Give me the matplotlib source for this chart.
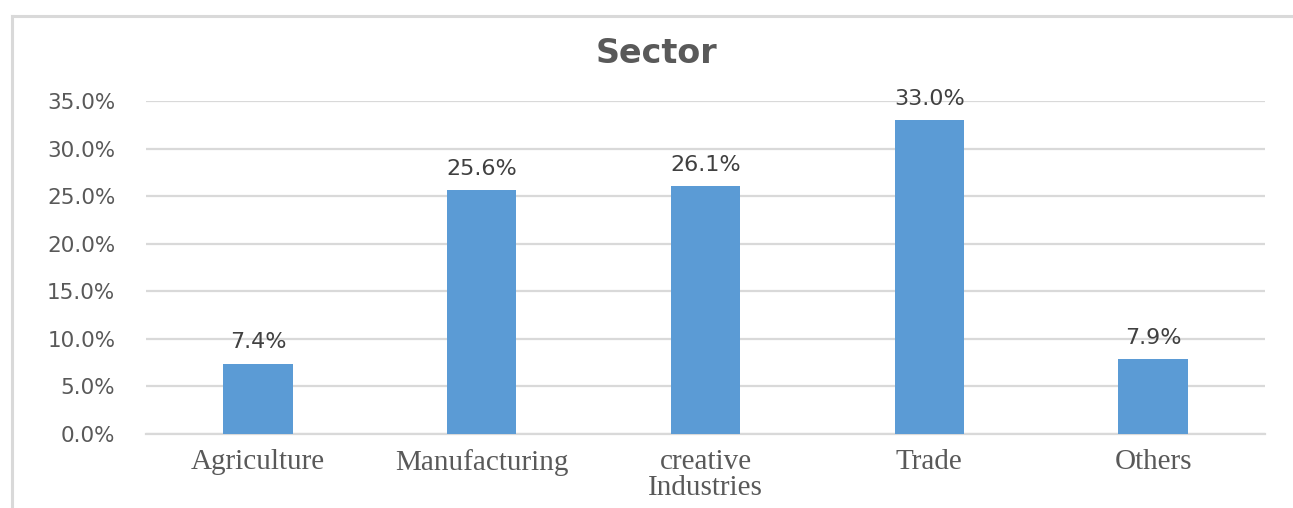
import matplotlib.pyplot as plt
from matplotlib.lines import Line2D
from matplotlib.ticker import FuncFormatter

sectors = ["Agriculture", "Manufacturing", "creative\nIndustries", "Trade", "Others"]
shares = [7.4, 25.6, 26.1, 33.0, 7.9]
y_ticks = [0, 5, 10, 15, 20, 25, 30, 35]

bar_color = "#5B9BD5"
grid_color = "#D9D9D9"
text_color = "#595959"

fig = plt.figure(figsize=(12.93, 5.08), dpi=100)
ax = fig.add_axes([0.1129, 0.1457, 0.8654, 0.6555])

x = range(len(sectors))
bars = ax.bar(x, shares, width=0.31, color=bar_color, zorder=3)

ax.set_xlim(-0.5, len(sectors) - 0.5)
ax.set_ylim(0, 35)
ax.set_yticks(y_ticks)
ax.yaxis.set_major_formatter(FuncFormatter(lambda v, _: f"{v:.1f}%"))
ax.grid(axis="y", color=grid_color, linewidth=1.6, zorder=0)

for side in ["top", "right", "left"]:
    ax.spines[side].set_visible(False)
ax.spines["bottom"].set_color(grid_color)
ax.spines["bottom"].set_linewidth(1.6)
ax.tick_params(length=0)
ax.tick_params(axis="y", labelsize=15.5, labelcolor=text_color, pad=22)

ax.set_xticks(list(x))
ax.set_xticklabels(sectors, fontfamily="Liberation Serif", fontsize=21,
                   color=text_color, linespacing=1.0)
ax.tick_params(axis="x", pad=11)

# value labels above each bar
for rect, val in zip(bars, shares):
    ax.annotate(f"{val:.1f}%", (rect.get_x() + rect.get_width() / 2, val),
                xytext=(0, 8), textcoords="offset points",
                ha="center", va="bottom", fontsize=16, color="#404040")

fig.text(0.508, 0.895, "Sector", ha="center", va="center",
         fontsize=24, fontweight="bold", color=text_color)

# chart frame (left and top edges)
fig.add_artist(Line2D([0.0093, 0.0093], [0.0, 0.968], color=grid_color, linewidth=2.2))
fig.add_artist(Line2D([0.0093, 1.0], [0.968, 0.968], color=grid_color, linewidth=2.2))

fig.savefig("out.png", dpi=100, facecolor="white")
